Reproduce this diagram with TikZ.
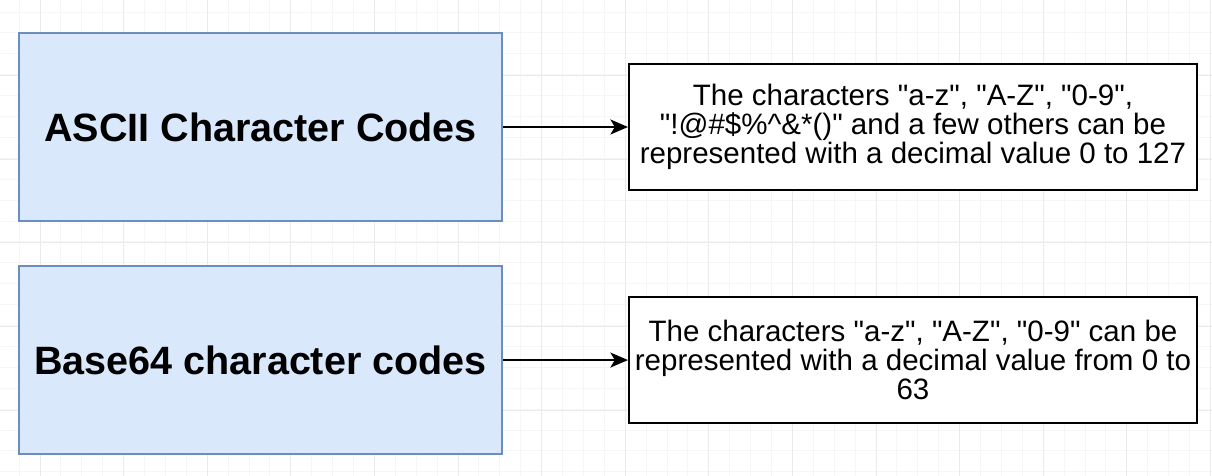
\documentclass[tikz,border=0pt]{standalone}
\usepackage{fontspec}
\setmainfont{Liberation Sans}
\usetikzlibrary{positioning,arrows.meta}

\definecolor{cellfill}{HTML}{DAE8FC}
\definecolor{cellline}{HTML}{6C8EBF}
\newcommand{\dq}{\textquotedbl}

\begin{document}
\begin{tikzpicture}[x=0.02cm, y=-0.02cm,
    codebox/.style={draw=cellline, fill=cellfill, line width=1.2pt, inner sep=0pt,
      minimum width=9.66cm, minimum height=3.76cm,
      font=\fontsize{22.5}{27}\selectfont\bfseries},
    notebox/.style={draw=black, fill=white, line width=1.2pt, inner sep=0pt,
      minimum width=11.36cm, minimum height=2.52cm, align=center,
      font=\fontsize{16.8}{16.3}\selectfont},
    arr/.style={-{Stealth[length=10pt, width=8.5pt, inset=2.5pt]}, line width=1.3pt}]
    \useasboundingbox (0,0) rectangle (1212,476);
    \fill[white] (0,0) rectangle (1212,476);
    % grid
    \draw[gray!7, line width=0.5pt] foreach \i in {0,...,57} {(19.1+20.9*\i,0) -- (19.1+20.9*\i,476)};
    \draw[gray!7, line width=0.5pt] foreach \i in {0,...,22} {(0,12+20.9*\i) -- (1212,12+20.9*\i)};
    \draw[gray!16, line width=0.5pt] foreach \i in {0,...,14} {(40+83.6*\i,0) -- (40+83.6*\i,476)};
    \draw[gray!16, line width=0.5pt] foreach \i in {0,...,5} {(0,-8+83.6*\i) -- (1212,-8+83.6*\i)};

    \node[codebox] (ascii)  at (260.5,127)               {ASCII Character Codes};
    \node[codebox] (base64) [below=0.86cm of ascii]      {Base64 character codes};
    \node[notebox] (asciinote) [right=2.5cm of ascii]    {The characters \dq a-z\dq, \dq A-Z\dq, \dq 0-9\dq,\\
      \dq !@\#\$\%\textasciicircum\&*()\dq\ and a few others can be\\
      represented with a decimal value 0 to 127};
    \node[notebox] (basenote)  [right=2.5cm of base64]   {The characters \dq a-z\dq, \dq A-Z\dq, \dq 0-9\dq\ can be\\
      represented with a decimal value from 0 to\\
      63};

    \draw[arr] (ascii)  -- (asciinote);
    \draw[arr] (base64) -- (basenote);
\end{tikzpicture}
\end{document}
